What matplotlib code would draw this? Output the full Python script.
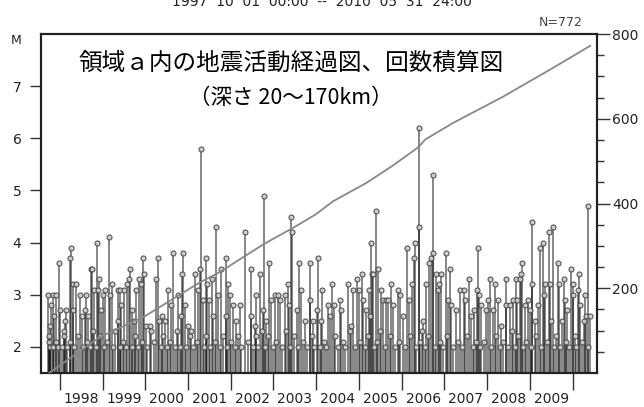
import matplotlib
matplotlib.use("Agg")
import matplotlib.pyplot as plt
from matplotlib.ticker import FixedLocator, NullFormatter, FixedFormatter

# events: (decimal year, magnitude)
ev_year = [
    1997.73, 1997.83, 1997.92, 1997.80, 1997.86, 1997.76, 1997.75, 1998.00, 1997.98, 1998.12,
    1998.14, 1998.09, 1998.23, 1998.27, 1998.31, 1998.30, 1998.37, 1998.47, 1998.61, 1998.51,
    1998.59, 1998.66, 1998.74, 1998.76, 1998.80, 1998.86, 1998.90, 1998.92, 1998.96, 1999.05,
    1999.01, 1999.15, 1999.21, 1999.18, 1999.36, 1999.42, 1999.50, 1999.43, 1999.37, 1999.58,
    1999.62, 1999.65, 1999.68, 1999.73, 1999.86, 1999.91, 1999.95, 1999.96, 1999.79, 2000.01,
    2000.11, 2000.14,
    2000.30, 2000.26, 2000.38, 2000.33, 2000.46, 2000.53, 2000.61, 2000.65, 2000.77, 2000.85,
    2000.88, 2000.84, 2000.92, 2001.00, 2001.08, 2001.16, 2001.24, 2001.28, 2001.31, 2001.35,
    2001.43, 2001.45, 2001.49, 2001.55, 2001.59, 2001.66, 2001.70, 2001.78, 2001.88, 2001.94,
    2001.98, 2001.90, 2002.06, 2002.13, 2002.21, 2002.33, 2002.48, 2002.60, 2002.69, 2002.47,
    2002.56, 2002.72,
    2002.77, 2002.90, 2002.76, 2002.82, 2002.95, 2003.03, 2003.11, 2003.16, 2003.26, 2003.34,
    2003.36, 2003.40, 2003.43, 2003.54, 2003.60, 2003.65, 2003.73, 2003.85, 2003.86, 2003.93,
    2003.95, 2004.04, 2004.02, 2004.12, 2004.14, 2004.28, 2004.32, 2004.36, 2004.41, 2004.55,
    2004.59, 2004.75, 2004.82, 2004.86, 2004.96, 2005.00, 2005.06, 2005.10, 2005.16, 2005.24,
    2005.29, 2005.31, 2005.25,
    2005.39, 2005.33, 2005.45, 2005.52, 2005.56, 2005.64, 2005.68, 2005.76, 2005.80, 2005.91,
    2005.97, 2006.03, 2006.12, 2006.17, 2006.25, 2006.30, 2006.29, 2006.41, 2006.40, 2006.50,
    2006.58, 2006.64, 2006.69, 2006.73, 2006.74, 2006.81, 2006.87, 2006.93, 2006.85, 2007.03,
    2007.08, 2007.14, 2007.16, 2007.26, 2007.36, 2007.45, 2007.47, 2007.58, 2007.63, 2007.69,
    2007.76, 2007.79, 2007.81, 2007.86,
    2008.06, 2008.02, 2007.98, 2008.18, 2008.14, 2008.25, 2008.33, 2008.45, 2008.43, 2008.53,
    2008.61, 2008.67, 2008.70, 2008.76, 2008.80, 2008.82, 2008.88, 2008.96, 2009.00, 2009.06,
    2009.04, 2009.11, 2009.23, 2009.30, 2009.44, 2009.53, 2009.19, 2009.35, 2009.32, 2009.46,
    2009.50, 2009.66, 2009.68, 2009.74, 2009.79, 2009.81, 2009.87, 2009.97, 2010.01, 2010.02,
    2010.15, 2010.13, 2010.17, 2010.28, 2010.26, 2010.32, 2010.35, 2010.40,
]
ev_mag = [
    3.0, 3.0, 3.0, 2.8, 2.6, 2.4, 2.2, 2.7, 3.6, 2.5,
    2.7, 2.2, 3.7, 3.9, 2.7, 3.2, 3.2, 3.0, 3.0, 2.6,
    2.7, 2.6, 3.5, 3.5, 3.1, 4.0, 3.1, 3.3, 2.7, 3.1,
    3.0, 4.1, 3.2, 3.0, 3.1, 3.1, 3.1, 2.8, 2.5, 3.2,
    3.3, 3.5, 2.7, 2.5, 3.3, 3.2, 3.7, 3.4, 3.1, 2.4,
    2.4, 2.3,
    3.7, 3.3, 2.6, 2.5, 2.5, 3.1, 2.8, 3.8, 3.0, 3.4,
    3.8, 2.6, 2.8, 2.4, 2.3, 3.4, 3.1, 3.5, 5.8, 2.9,
    3.7, 3.2, 2.9, 3.3, 2.6, 4.3, 3.0, 3.5, 3.7, 3.2,
    3.0, 2.6, 2.8, 2.5, 2.8, 4.2, 3.5, 3.0, 3.4, 2.6,
    2.4, 2.3,
    4.9, 3.6, 2.7, 2.5, 2.9, 3.0, 3.0, 2.9, 3.0, 3.2,
    2.8, 4.5, 4.2, 2.7, 3.6, 3.1, 2.5, 3.6, 2.9, 2.5,
    2.0, 3.7, 2.7, 2.5, 3.1, 2.8, 2.6, 3.2, 2.8, 2.9,
    2.7, 3.2, 2.4, 3.1, 3.3, 3.1, 3.4, 2.9, 2.7, 3.1,
    4.0, 3.4, 2.6,
    4.6, 3.4, 3.5, 3.1, 2.9, 2.9, 2.9, 3.2, 2.8, 3.1,
    3.0, 2.6, 3.9, 2.9, 3.2, 4.0, 3.7, 4.3, 6.2, 2.5,
    3.2, 3.6, 3.7, 3.8, 5.3, 3.4, 3.2, 3.4, 3.1, 3.8,
    2.9, 3.5, 2.8, 2.7, 3.1, 3.1, 2.9, 3.3, 2.6, 2.7,
    3.1, 3.9, 3.0, 2.8,
    3.3, 2.9, 2.7, 3.2, 2.7, 2.9, 2.4, 3.3, 2.8, 2.8,
    2.9, 3.3, 2.9, 3.3, 3.4, 3.6, 2.8, 2.9, 2.7, 4.4,
    3.2, 2.5, 3.9, 4.0, 4.2, 4.3, 2.8, 3.2, 3.0, 3.2,
    2.5, 3.6, 3.2, 2.5, 3.3, 2.9, 2.7, 3.5, 3.2, 3.0,
    3.4, 3.1, 2.8, 3.0, 2.5, 2.6, 4.7, 2.6,
]

# the many small events near the bottom band
low_year = [
    1997.74, 1997.78, 1997.85, 1997.90, 1997.95, 1998.04, 1998.10, 1998.18, 1998.24, 1998.33,
    1998.42, 1998.55, 1998.63, 1998.70, 1998.78, 1998.84, 1998.94, 1999.03, 1999.10, 1999.25,
    1999.30, 1999.40, 1999.47, 1999.55, 1999.70, 1999.77, 1999.83, 1999.93,
    2000.05, 2000.20, 2000.36, 2000.42, 2000.50, 2000.57, 2000.70, 2000.74, 2000.81, 2000.96,
    2001.05, 2001.11, 2001.20, 2001.38, 2001.41, 2001.52, 2001.62, 2001.75, 2001.82, 2001.92,
    2002.00, 2002.10, 2002.16, 2002.25, 2002.41, 2002.52, 2002.58, 2002.64,
    2002.80, 2002.87, 2002.99, 2003.07, 2003.20, 2003.30, 2003.38, 2003.48, 2003.57, 2003.69,
    2003.79, 2003.90, 2004.08, 2004.18, 2004.23, 2004.45, 2004.50, 2004.63, 2004.68, 2004.79,
    2004.90, 2005.03, 2005.13, 2005.20,
    2005.35, 2005.42, 2005.49, 2005.60, 2005.72, 2005.84, 2005.94, 2006.07, 2006.20, 2006.34,
    2006.44, 2006.47, 2006.54, 2006.61, 2006.77, 2006.90, 2006.97, 2007.06, 2007.20, 2007.31,
    2007.40, 2007.52, 2007.66, 2007.73, 2007.84,
    2007.92, 2008.09, 2008.21, 2008.29, 2008.38, 2008.49, 2008.57, 2008.65, 2008.73, 2008.85,
    2008.92, 2009.02, 2009.14, 2009.26, 2009.39, 2009.57, 2009.62, 2009.71, 2009.84, 2009.92,
    2010.06, 2010.09, 2010.21, 2010.37,
]
low_mag = [
    2.1, 2.0, 2.0, 2.1, 2.0, 2.0, 2.3, 2.0, 2.1, 2.0,
    2.2, 2.0, 2.1, 2.0, 2.3, 2.0, 2.2, 2.0, 2.1, 2.0,
    2.3, 2.0, 2.1, 2.0, 2.0, 2.2, 2.0, 2.1,
    2.0, 2.1, 2.0, 2.2, 2.0, 2.1, 2.0, 2.3, 2.0, 2.0,
    2.2, 2.0, 2.1, 2.0, 2.2, 2.0, 2.1, 2.0, 2.2, 2.0,
    2.1, 2.0, 2.2, 2.0, 2.1, 2.0, 2.2, 2.0,
    2.0, 2.2, 2.0, 2.1, 2.0, 2.3, 2.0, 2.2, 2.0, 2.1,
    2.0, 2.2, 2.0, 2.1, 2.0, 2.2, 2.0, 2.1, 2.0, 2.3,
    2.0, 2.1, 2.0, 2.2,
    2.0, 2.1, 2.3, 2.0, 2.2, 2.0, 2.1, 2.0, 2.2, 2.0,
    2.1, 2.3, 2.0, 2.2, 2.0, 2.1, 2.0, 2.2, 2.0, 2.1,
    2.0, 2.2, 2.0, 2.1, 2.0,
    2.1, 2.0, 2.2, 2.0, 2.1, 2.0, 2.3, 2.0, 2.2, 2.0,
    2.1, 2.0, 2.2, 2.0, 2.1, 2.0, 2.2, 2.0, 2.1, 2.0,
    2.2, 2.0, 2.1, 2.0,
]

# cumulative number of events (right axis)
cum_year = [1997.75, 1998.94, 1999.99, 2001.28, 2001.74, 2002.77, 2003.50, 2004.00, 2004.39,
            2005.18, 2005.80, 2006.35, 2006.42, 2006.55, 2007.20, 2008.37, 2009.54, 2010.41]
cum_count = [0, 85, 134, 214, 238, 304, 345, 375, 405,
             449, 490, 530, 536, 551, 590, 652, 720, 772]

years = list(range(1998, 2011))
year_labels = [str(y) for y in range(1998, 2010)]

fig = plt.figure(figsize=(6.44, 4.07), dpi=100)
ax = fig.add_axes([41 / 644, 1 - 373 / 407, 556 / 644, 339 / 407])

all_year = ev_year + low_year
all_mag = ev_mag + low_mag
ax.vlines(all_year, 1.5, all_mag, colors="black", alpha=0.55, lw=1.2, zorder=2)
ax.plot(all_year, all_mag, "o", ms=3.6, mfc="#d0d0d0", mec="#444444", mew=0.8,
        alpha=0.9, zorder=3)

ax.set_xlim(1997.56, 2010.57)
ax.set_ylim(1.5, 8.0)

ax.xaxis.set_major_locator(FixedLocator(years))
ax.xaxis.set_major_formatter(NullFormatter())
ax.xaxis.set_minor_locator(FixedLocator([y + 0.5 for y in range(1998, 2010)]))
ax.xaxis.set_minor_formatter(FixedFormatter(year_labels))
ax.tick_params(axis="x", which="major", direction="out", length=12, width=1, color="#333333")
ax.tick_params(axis="x", which="minor", length=0, pad=14, labelsize=10, labelcolor="#222222")

ax.set_yticks([2, 3, 4, 5, 6, 7])
ax.tick_params(axis="y", direction="out", length=8, width=1, color="#333333",
               labelsize=10, labelcolor="#222222", pad=6)
ax.text(-0.045, 0.982, "M", transform=ax.transAxes, ha="center", va="center",
        fontsize=9, color="#222222")

for s in ax.spines.values():
    s.set_linewidth(1.5)
    s.set_color("#222222")

ax2 = ax.twinx()
ax2.plot(cum_year, cum_count, color="#888888", lw=1.3, zorder=4)
ax2.set_ylim(0, 800)
ax2.set_yticks([200, 400, 600, 800])
ax2.set_yticks([50, 100, 150, 250, 300, 350, 450, 500, 550, 650, 700, 750], minor=True)
ax2.tick_params(axis="y", which="major", direction="out", length=9, width=1, color="#333333",
                labelsize=10, labelcolor="#222222", pad=2)
ax2.tick_params(axis="y", which="minor", direction="out", length=5, width=1, color="#333333")
for s in ax2.spines.values():
    s.set_linewidth(1.5)
    s.set_color("#222222")

jp = ["Noto Sans CJK JP", "DejaVu Sans"]
ax.text(291 / 644, 1 - 63 / 407, "領域ａ内の地震活動経過図、回数積算図", transform=fig.transFigure,
        ha="center", va="center", fontsize=17, family=jp, color="black", zorder=6)
ax.text(291 / 644, 1 - 98 / 407, "（深さ 20～170km）", transform=fig.transFigure,
        ha="center", va="center", fontsize=15.5, family=jp, color="black", zorder=6)

fig.text(322 / 644, 1 - 2 / 407, "1997  10  01  00:00  --  2010  05  31  24:00",
         ha="center", va="center", fontsize=10, color="#222222")
fig.text(583 / 644, 1 - 23 / 407, "N=772", ha="right", va="center", fontsize=9,
         color="#444444")

fig.savefig("out.png", dpi=100)
